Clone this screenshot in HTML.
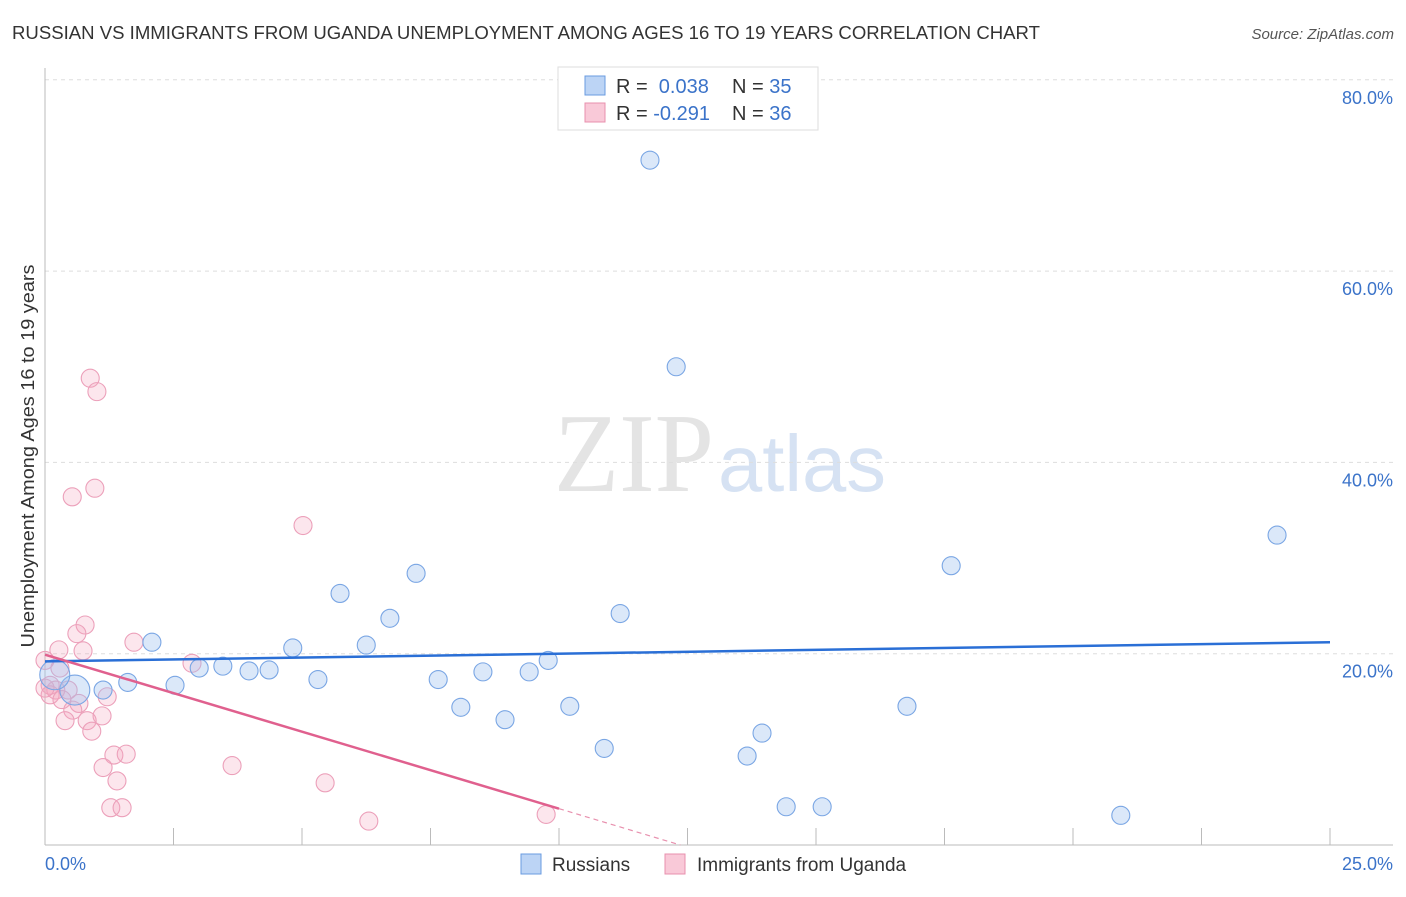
<!DOCTYPE html>
<html><head><meta charset="utf-8"><style>
body{margin:0;background:#fff;font-family:"Liberation Sans",sans-serif;}
</style></head><body>
<svg id="chart" width="1406" height="892" xmlns="http://www.w3.org/2000/svg">
<text x="12" y="39" font-size="18" fill="#333" textLength="1028" lengthAdjust="spacingAndGlyphs">RUSSIAN VS IMMIGRANTS FROM UGANDA UNEMPLOYMENT AMONG AGES 16 TO 19 YEARS CORRELATION CHART</text>
<text x="1394" y="39" font-size="15" fill="#555" font-style="italic" text-anchor="end">Source: ZipAtlas.com</text>
<text x="714" y="491" font-size="112" fill="#e4e4e4" text-anchor="end" font-family="Liberation Serif,serif" textLength="160" lengthAdjust="spacingAndGlyphs">ZIP</text>
<text x="718" y="491" font-size="80" fill="#d6e2f3" textLength="168" lengthAdjust="spacingAndGlyphs">atlas</text>
<g id="grid"></g>
<line x1="45" y1="68" x2="45" y2="845" stroke="#bbb"/>
<line x1="45" y1="845" x2="1393" y2="845" stroke="#bbb"/>
<g id="xticks"></g>
<text x="45" y="870" font-size="18" fill="#3b73c9">0.0%</text>
<text x="1393" y="870" font-size="18" fill="#3b73c9" text-anchor="end">25.0%</text>
<text transform="translate(34,456) rotate(-90)" font-size="18" fill="#333" text-anchor="middle" textLength="383" lengthAdjust="spacingAndGlyphs">Unemployment Among Ages 16 to 19 years</text>
<g id="points"></g>
<g id="trends"></g>
<g>
<rect x="558" y="67" width="260" height="63" fill="#fff" stroke="#ddd"/>
<rect x="585" y="76" width="20" height="19" fill="#bcd4f5" stroke="#6a9be0"/>
<rect x="585" y="103" width="20" height="19" fill="#f9c9d8" stroke="#e890ae"/>
<text x="616" y="93" font-size="20" fill="#333">R = <tspan fill="#3b73c9">&#160;0.038</tspan><tspan x="732">N = </tspan><tspan fill="#3b73c9">35</tspan></text>
<text x="616" y="120" font-size="20" fill="#333">R = <tspan fill="#3b73c9">-0.291</tspan><tspan x="732">N = </tspan><tspan fill="#3b73c9">36</tspan></text>
</g>
<g>
<rect x="521" y="854" width="20" height="20" fill="#bcd4f5" stroke="#6a9be0"/>
<text x="552" y="871" font-size="19" fill="#333">Russians</text>
<rect x="665" y="854" width="20" height="20" fill="#f9c9d8" stroke="#e890ae"/>
<text x="697" y="871" font-size="19" fill="#333">Immigrants from Uganda</text>
</g>
</svg>
<script>
const yTicks=[20,40,60,80];
const xTickCount=10;
const russiansX=[11.77,12.28,23.97,17.63,7.22,5.74,6.71,11.19,2.08,4.82,6.25,9.79,3.46,3.0,3.97,4.36,5.31,8.52,9.42,7.65,2.53,1.61,1.13,0.58,0.19,8.09,10.21,16.77,8.95,10.88,13.95,13.66,14.42,15.12,20.93];
const russiansY=[71.6,50.0,32.4,29.2,28.4,26.3,23.7,24.2,21.2,20.6,20.9,19.3,18.7,18.5,18.2,18.3,17.3,18.1,18.1,17.3,16.7,17.0,16.2,16.2,17.8,14.4,14.5,14.5,13.1,10.1,11.7,9.3,4.0,4.0,3.1];
const russiansBig=[23,24];
const ugandaX=[0.88,1.01,0.97,0.53,5.02,0.78,0.62,0.27,0.74,1.73,2.86,0,0.29,0.1,0.21,0.45,0.1,0.33,0.66,1.21,0.54,1.11,0.39,0.82,0.91,1.34,1.58,1.13,3.64,1.4,5.45,1.28,1.5,6.3,9.75,0.0];
const ugandaY=[48.8,47.4,37.3,36.4,33.4,23.0,22.1,20.4,20.3,21.2,19.0,19.3,18.5,16.7,16.2,16.2,15.7,15.2,14.8,15.5,14.1,13.5,13.0,13.0,11.9,9.4,9.5,8.1,8.3,6.7,6.5,3.9,3.9,2.5,3.2,16.4];
const russiansTrend=[19.2,21.2];
const ugandaTrend=[19.9,3.8];
const NS="http://www.w3.org/2000/svg";
const sx=v=>45+v*51.4, sy=v=>845-v*9.565;
function mk(tag,attrs,parent){const e=document.createElementNS(NS,tag);for(const k in attrs)e.setAttribute(k,attrs[k]);parent.appendChild(e);return e;}
const grid=document.getElementById('grid');
yTicks.forEach(t=>{
 const l=mk('line',{x1:45,x2:1393,y1:sy(t),y2:sy(t),stroke:'#ddd','stroke-dasharray':'4,4'},grid);
 
 
 const tx=mk('text',{x:1393,y:sy(t)+24,'font-size':18,fill:'#3b73c9','text-anchor':'end'},grid);
 tx.textContent=t.toFixed(1)+'%';
 
 
});
const xt=document.getElementById('xticks');
for(let i=1;i<=xTickCount;i++){
 const v=i*25/xTickCount;
 const l=mk('line',{x1:sx(v),x2:sx(v),y1:828,y2:845,stroke:'#bbb'},xt);
 
 
}
const pg=document.getElementById('points');
ugandaX.forEach((x,i)=>{
 const c=mk('circle',{cx:sx(x),cy:sy(ugandaY[i]),r:9,fill:'rgba(245,165,190,0.28)',stroke:'#eca0ba','stroke-width':1.1},pg);
 
 
});
russiansX.forEach((x,i)=>{
 const big=russiansBig.includes(i);
 const c=mk('circle',{cx:sx(x),cy:sy(russiansY[i]),r:big?15:9,fill:'rgba(160,195,240,0.38)',stroke:'#7aa6e4','stroke-width':1.1},pg);
 
 
});
const tg=document.getElementById('trends');
const bl=mk('line',{x1:sx(0),y1:sy(russiansTrend[0]),x2:sx(25),y2:sy(russiansTrend[1]),stroke:'#2a6fd6','stroke-width':2.5},tg);


const slope=(ugandaTrend[1]-ugandaTrend[0])/10;
const pl=mk('line',{x1:sx(0),y1:sy(ugandaTrend[0]),x2:sx(10),y2:sy(ugandaTrend[1]),stroke:'#e0608e','stroke-width':2.5},tg);


const xEnd=-ugandaTrend[0]/slope;
const pd=mk('line',{x1:sx(10),y1:sy(ugandaTrend[1]),x2:sx(xEnd),y2:sy(0),stroke:'#e890ae','stroke-width':1.2,'stroke-dasharray':'5,4'},tg);


</script>
</body></html>
